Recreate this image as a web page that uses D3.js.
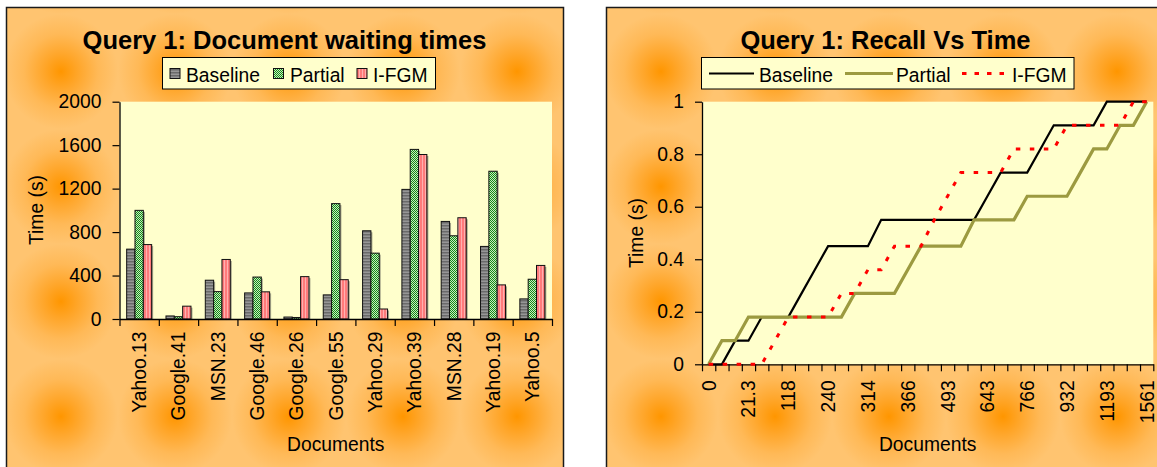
<!DOCTYPE html>
<html>
<head>
<meta charset="utf-8">
<script src="https://cdn.jsdelivr.net/npm/d3@7/dist/d3.min.js"></script>
<style>
  html, body { margin: 0; padding: 0; background: #fff; }
  svg { display: block; }
  text { font-family: "Liberation Sans", Arial, sans-serif; fill: #000; }
</style>
</head>
<body>
<svg id="chart" width="1157" height="467"></svg>
<script>
// ---- Document waiting times (seconds) per retrieval strategy ----
const docs = ["Yahoo.13", "Google.41", "MSN.23", "Google.46", "Google.26", "Google.55",
              "Yahoo.29", "Yahoo.39", "MSN.28", "Yahoo.19", "Yahoo.5"];
const seriesNames = ["Baseline", "Partial", "I-FGM"];
const baselineTimes = [643, 28, 357, 240, 18, 222, 812, 1193, 898, 668, 185];
const partialTimes  = [1000, 21.3, 252, 386, 14, 1062, 606, 1561, 766, 1360, 366];
const ifgmTimes     = [685, 118, 548, 250, 390, 362, 92, 1514, 932, 314, 493];
const waitTicks = [0, 400, 800, 1200, 1600, 2000];

// ---- Recall against elapsed documents time ----
const recallTimes = [0, 14, 18, 21.3, 28, 92, 118, 185, 222, 240, 250, 252, 314, 357, 362, 366, 386,
                     390, 493, 548, 606, 643, 668, 685, 766, 812, 898, 932, 1000, 1062, 1193, 1360, 1514, 1561];
const baselineRecall = [0, 0, 0.09, 0.09, 0.18, 0.18, 0.18, 0.27, 0.36, 0.45, 0.45, 0.45, 0.45, 0.55, 0.55, 0.55, 0.55,
                        0.55, 0.55, 0.55, 0.55, 0.64, 0.73, 0.73, 0.73, 0.82, 0.91, 0.91, 0.91, 0.91, 1, 1, 1, 1];
const partialRecall  = [0, 0.09, 0.09, 0.18, 0.18, 0.18, 0.18, 0.18, 0.18, 0.18, 0.18, 0.27, 0.27, 0.27, 0.27, 0.36, 0.45,
                        0.45, 0.45, 0.45, 0.55, 0.55, 0.55, 0.55, 0.64, 0.64, 0.64, 0.64, 0.73, 0.82, 0.82, 0.91, 0.91, 1];
const ifgmRecall     = [0, 0, 0, 0, 0, 0.09, 0.18, 0.18, 0.18, 0.18, 0.27, 0.27, 0.36, 0.36, 0.45, 0.45, 0.45,
                        0.55, 0.64, 0.73, 0.73, 0.73, 0.73, 0.82, 0.82, 0.82, 0.82, 0.91, 0.91, 0.91, 0.91, 0.91, 1, 1];
const recallTicks = [0, 0.2, 0.4, 0.6, 0.8, 1];

const FONT = 19.3, TITLE = 25.5;
const svg = d3.select("#chart");
const defs = svg.append("defs");

// Soft orange texture: one glowing blob per tile
const grad = defs.append("radialGradient").attr("id", "blob");
[[0, "#ff9600"], [0.3, "#ffa62a"], [0.65, "#ffb957"], [1, "#ffc470"]].forEach(([o, c]) =>
  grad.append("stop").attr("offset", o).attr("stop-color", c));
function texture(id, ox, oy) {
  const p = defs.append("pattern").attr("id", id).attr("patternUnits", "userSpaceOnUse")
    .attr("width", 114).attr("height", 115).attr("patternTransform", `translate(${ox},${oy})`);
  p.append("rect").attr("width", 114).attr("height", 115).attr("fill", "#ffc470");
  p.append("ellipse").attr("cx", 57).attr("cy", 57.5).attr("rx", 57).attr("ry", 57.5).attr("fill", "url(#blob)");
}
texture("texL", 4, 14);
texture("texR", 604, 14);

// Bar fills
const pBase = defs.append("pattern").attr("id", "fillBase").attr("patternUnits", "userSpaceOnUse").attr("width", 4).attr("height", 3);
pBase.append("rect").attr("width", 4).attr("height", 3).attr("fill", "#969696");
pBase.append("rect").attr("width", 4).attr("height", 1.5).attr("fill", "#6a6a6a");
const pPart = defs.append("pattern").attr("id", "fillPart").attr("patternUnits", "userSpaceOnUse").attr("width", 2).attr("height", 2);
pPart.append("rect").attr("width", 2).attr("height", 2).attr("fill", "#c8ecbc");
pPart.append("rect").attr("width", 1).attr("height", 1).attr("fill", "#138a1a");
pPart.append("rect").attr("x", 1).attr("y", 1).attr("width", 1).attr("height", 1).attr("fill", "#138a1a");
const pIfgm = defs.append("pattern").attr("id", "fillIfgm").attr("patternUnits", "userSpaceOnUse").attr("width", 3).attr("height", 4);
pIfgm.append("rect").attr("width", 3).attr("height", 4).attr("fill", "#ff7b7b");
pIfgm.append("rect").attr("x", 2).attr("width", 1).attr("height", 4).attr("fill", "#ffb0b0");
const barFills = ["url(#fillBase)", "url(#fillPart)", "url(#fillIfgm)"];

// Panels
svg.append("rect").attr("x", 6.5).attr("y", 7.5).attr("width", 557).attr("height", 480)
  .attr("fill", "url(#texL)").attr("stroke", "#1a1a1a").attr("stroke-width", 1.5);
svg.append("rect").attr("x", 606.5).attr("y", 7.5).attr("width", 560).attr("height", 480)
  .attr("fill", "url(#texR)").attr("stroke", "#1a1a1a").attr("stroke-width", 1.5);

function styleAxis(g) {
  g.attr("font-family", null).attr("font-size", null);
  g.selectAll("path.domain").attr("stroke", "#000").attr("stroke-width", 1.3);
  g.selectAll(".tick line").attr("stroke", "#000").attr("stroke-width", 1.2);
  g.selectAll("text").style("font-size", FONT + "px");
}

// ================= Left: grouped bars =================
(function () {
  const x0 = 119.5, x1 = 552, yTop = 101.7, yBot = 319;
  const g = svg.append("g");
  g.append("rect").attr("x", x0).attr("y", yTop).attr("width", x1 - x0).attr("height", yBot - yTop).attr("fill", "#ffffcc");

  const x = d3.scaleBand().domain(docs).range([x0, x1]);
  const xs = d3.scaleBand().domain(seriesNames).range([0, x.bandwidth()]).paddingOuter(0.86);
  const y = d3.scaleLinear().domain([0, 2000]).range([yBot, yTop]);
  const values = [baselineTimes, partialTimes, ifgmTimes];

  seriesNames.forEach((s, si) => {
    const data = docs.map((d, i) => ({ d, v: values[si][i] }));
    g.append("g").selectAll("rect").data(data).join("rect")
      .attr("x", r => x(r.d) + xs(s) + 1.5).attr("y", r => y(r.v) + 1.5)
      .attr("width", xs.bandwidth()).attr("height", r => Math.max(0, yBot - y(r.v) - 1.5))
      .attr("fill", "rgba(60,60,60,0.45)");
    g.append("g").selectAll("rect").data(data).join("rect")
      .attr("x", r => x(r.d) + xs(s)).attr("y", r => y(r.v))
      .attr("width", xs.bandwidth()).attr("height", r => yBot - y(r.v))
      .attr("fill", barFills[si]).attr("stroke", "#111").attr("stroke-width", 1);
  });

  const ya = g.append("g").attr("transform", `translate(${x0},0)`)
    .call(d3.axisLeft(y).tickValues(waitTicks).tickFormat(d3.format("d")).tickSize(7).tickPadding(11).tickSizeOuter(0));
  styleAxis(ya);

  const xIdx = d3.scaleLinear().domain([0, docs.length]).range([x0, x1]);
  const xt = g.append("g").attr("transform", `translate(0,${yBot})`)
    .call(d3.axisBottom(xIdx).tickValues(d3.range(docs.length + 1)).tickFormat("").tickSize(7).tickSizeOuter(0));
  styleAxis(xt);
  const xl = g.append("g").attr("transform", `translate(0,${yBot})`)
    .call(d3.axisBottom(x).tickSize(0).tickPadding(0));
  xl.select("path.domain").remove();
  styleAxis(xl);
  xl.selectAll("text").attr("transform", "rotate(-90)").attr("x", -12.5).attr("y", 0)
    .attr("dy", "0.36em").attr("text-anchor", "end");

  svg.append("text").attr("x", 284.5).attr("y", 49).attr("text-anchor", "middle")
    .style("font-size", TITLE + "px").style("font-weight", "bold").text("Query 1: Document waiting times");
  svg.append("text").attr("transform", "translate(43,210) rotate(-90)").attr("text-anchor", "middle")
    .style("font-size", FONT + "px").text("Time (s)");
  svg.append("text").attr("x", (x0 + x1) / 2).attr("y", 451).attr("text-anchor", "middle")
    .style("font-size", FONT + "px").text("Documents");

  // Legend
  const lg = svg.append("g");
  lg.append("rect").attr("x", 162.5).attr("y", 57.5).attr("width", 273).attr("height", 31.5)
    .attr("fill", "#ffffcc").attr("stroke", "#000").attr("stroke-width", 1);
  const items = [{ sx: 170, tx: 186 }, { sx: 273.5, tx: 290 }, { sx: 357, tx: 373 }];
  seriesNames.forEach((s, i) => {
    lg.append("rect").attr("x", items[i].sx).attr("y", 68.5).attr("width", 10).attr("height", 10)
      .attr("fill", barFills[i]).attr("stroke", "#111").attr("stroke-width", 1);
    lg.append("text").attr("x", items[i].tx).attr("y", 81.5).style("font-size", FONT + "px").text(s);
  });
})();

// ================= Right: recall step lines =================
(function () {
  const x0 = 702, x1 = 1153.3, yTop = 101.7, yBot = 364.3;
  const g = svg.append("g");
  g.append("rect").attr("x", x0).attr("y", yTop).attr("width", x1 - x0).attr("height", yBot - yTop).attr("fill", "#ffffcc");

  const idx = d3.range(recallTimes.length);
  const x = d3.scaleBand().domain(idx).range([x0, x1]);
  const y = d3.scaleLinear().domain([0, 1]).range([yBot, yTop]);

  const ya = g.append("g").attr("transform", `translate(${x0},0)`)
    .call(d3.axisLeft(y).tickValues(recallTicks).tickFormat(d3.format("~g")).tickSize(7).tickPadding(11).tickSizeOuter(0));
  styleAxis(ya);

  const xIdx = d3.scaleLinear().domain([0, recallTimes.length]).range([x0, x1]);
  const xt = g.append("g").attr("transform", `translate(0,${yBot})`)
    .call(d3.axisBottom(xIdx).tickValues(d3.range(recallTimes.length + 1)).tickFormat("").tickSize(7).tickSizeOuter(0));
  styleAxis(xt);
  const xl = g.append("g").attr("transform", `translate(0,${yBot})`)
    .call(d3.axisBottom(x).tickValues(idx.filter(i => i % 3 === 0)).tickFormat(i => String(recallTimes[i]))
      .tickSize(0).tickPadding(0));
  xl.select("path.domain").remove();
  styleAxis(xl);
  xl.selectAll("text").attr("transform", "rotate(-90)").attr("x", -16).attr("y", 0)
    .attr("dy", "0.36em").attr("text-anchor", "end");

  const line = d3.line().x((d, i) => x(i) + x.bandwidth() / 2).y(d => y(d));
  const styles = [
    { data: baselineRecall, stroke: "#000", w: 2.2, dash: null },
    { data: partialRecall, stroke: "#9c9a40", w: 3.2, dash: null },
    { data: ifgmRecall, stroke: "#ff0000", w: 3, dash: "4.5,9.5" }
  ];
  styles.forEach(s => {
    g.append("path").attr("d", line(s.data)).attr("fill", "none").attr("stroke", s.stroke)
      .attr("stroke-width", s.w).attr("stroke-dasharray", s.dash);
  });

  svg.append("text").attr("x", 885.5).attr("y", 48.5).attr("text-anchor", "middle")
    .style("font-size", TITLE + "px").style("font-weight", "bold").text("Query 1: Recall Vs Time");
  svg.append("text").attr("transform", "translate(643,233) rotate(-90)").attr("text-anchor", "middle")
    .style("font-size", FONT + "px").text("Time (s)");
  svg.append("text").attr("x", (x0 + x1) / 2).attr("y", 451).attr("text-anchor", "middle")
    .style("font-size", FONT + "px").text("Documents");

  // Legend
  const lg = svg.append("g");
  lg.append("rect").attr("x", 701.5).attr("y", 57.5).attr("width", 372.5).attr("height", 31.5)
    .attr("fill", "#ffffcc").attr("stroke", "#000").attr("stroke-width", 1);
  const items = [{ a: 709, b: 754, tx: 759 }, { a: 845, b: 893, tx: 896 }, { a: 962, b: 1008, tx: 1012 }];
  seriesNames.forEach((s, i) => {
    lg.append("line").attr("x1", items[i].a).attr("x2", items[i].b).attr("y1", 73.5).attr("y2", 73.5)
      .attr("stroke", styles[i].stroke).attr("stroke-width", styles[i].w)
      .attr("stroke-dasharray", i === 2 ? "4.5,8" : null);
    lg.append("text").attr("x", items[i].tx).attr("y", 81.5).style("font-size", FONT + "px").text(s);
  });
})();
</script>
</body>
</html>
